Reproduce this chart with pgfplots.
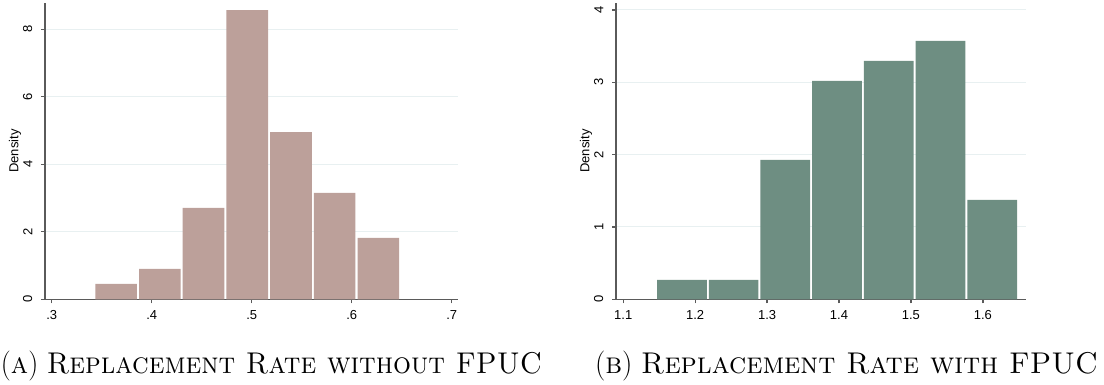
\documentclass[border=0pt]{standalone}
\usepackage{fontspec}
\usepackage{graphicx}
\usepackage{pgfplots}
\pgfplotsset{compat=1.18}
\newfontfamily\arialf{Liberation Sans}
\definecolor{barA}{RGB}{188,160,154}
\definecolor{barB}{RGB}{110,142,130}
\definecolor{axgray}{RGB}{90,90,90}
\definecolor{gridc}{RGB}{232,240,241}
\pgfplotsset{
  stata/.style={
  scale only axis,
  axis x line*=bottom, axis y line*=left,
  tick align=outside, major tick length=4pt,
  minor tick num=0,
  every tick/.style={draw=axgray, line width=1.3pt},
  axis line style={draw=axgray, line width=1.6pt},
  ymajorgrids, grid style={draw=gridc, line width=1pt},
  tick label style={font=\arialf\fontsize{13}{13}\selectfont, text=black},
  xticklabel style={anchor=north, inner sep=0pt, yshift=-7pt},
  yticklabel style={rotate=90, anchor=south, inner xsep=0pt, inner ysep=8.5pt},
  every axis y label/.style={at={(axis description cs:0,0.5)}, xshift=-30pt, rotate=90, anchor=center, font=\arialf\fontsize{13}{13}\selectfont},
  ylabel={Density},
  clip=false,
}}
\begin{document}
\begin{tikzpicture}
\path[use as bounding box] (0pt,0pt) rectangle (1104pt,-384pt);
% Panel A
\begin{axis}[stata, at={(45pt,-299.3pt)}, anchor=south west,
  width=413pt, height=296.6pt,
  xmin=0.2933, xmax=0.7063, ymin=0, ymax=8.79,
  xtick={0.3,0.4,0.5,0.6,0.7}, xticklabels={.3,.4,.5,.6,.7},
  ytick={0,2,4,6,8}, yticklabels={0,2,4,6,8}]
\addplot[ybar interval, bar interval width=0.954, bar interval shift=0.5, fill=barA, draw=none] coordinates {
(0.3426,0.454) (0.3863,0.899) (0.4300,2.706) (0.4737,8.573)
(0.5174,4.958) (0.5611,3.151) (0.6048,1.817) (0.6485,1.817)};
\end{axis}
% Panel B
\begin{axis}[stata, at={(616pt,-299.3pt)}, anchor=south west,
  width=410pt, height=296.6pt,
  xmin=1.0899, xmax=1.66, ymin=0, ymax=4.10,
  xtick={1.1,1.2,1.3,1.4,1.5,1.6}, xticklabels={1.1,1.2,1.3,1.4,1.5,1.6},
  ytick={0,1,2,3,4}, yticklabels={0,1,2,3,4}]
\addplot[ybar interval, bar interval width=0.961, bar interval shift=0.5, fill=barB, draw=none] coordinates {
(1.1456,0.267) (1.2175,0.267) (1.2894,1.926) (1.3613,3.018)
(1.4332,3.295) (1.5051,3.571) (1.5770,1.373) (1.6489,1.373)};
\end{axis}
\node[anchor=base, inner sep=0pt, font=\fontsize{30}{30}\selectfont] at (271.5pt,-373pt) {\resizebox{541pt}{\height}{(\textsc{a}) \textsc{Replacement Rate without FPUC}}};
\node[anchor=base, inner sep=0pt, font=\fontsize{30}{30}\selectfont] at (846.5pt,-373pt) {\resizebox{503pt}{\height}{(\textsc{b}) \textsc{Replacement Rate with FPUC}}};
\end{tikzpicture}
\end{document}
